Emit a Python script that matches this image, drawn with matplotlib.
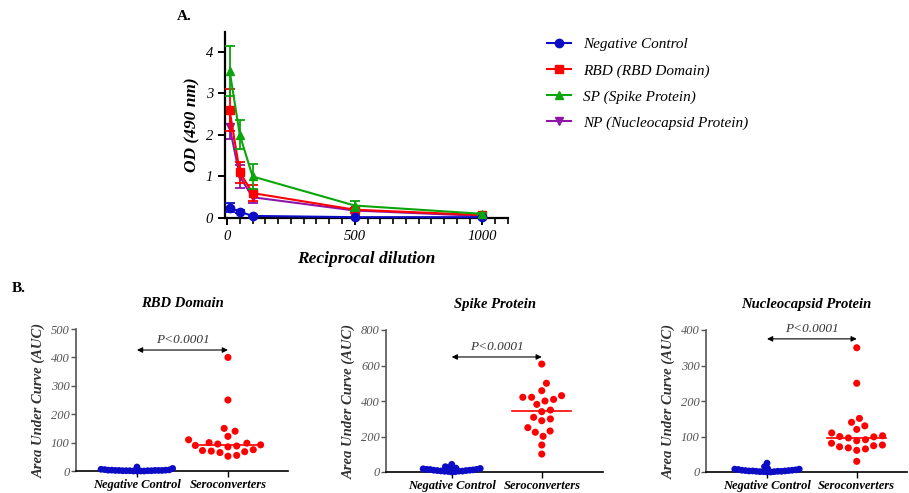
import numpy as np
import matplotlib
matplotlib.use("Agg")
import matplotlib.pyplot as plt
from matplotlib.lines import Line2D

plt.rcParams['font.family'] = ['Liberation Serif', 'DejaVu Serif']

# ---------------- Panel A data ----------------
dilution = [10, 50, 100, 500, 1000]
neg_od = [0.25, 0.15, 0.05, 0.02, 0.02]
neg_err = [0.10, 0.04, 0.02, 0.01, 0.01]
rbd_od = [2.60, 1.10, 0.60, 0.20, 0.07]
rbd_err = [0.50, 0.25, 0.20, 0.05, 0.02]
sp_od = [3.55, 2.00, 1.00, 0.30, 0.10]
sp_err = [0.60, 0.35, 0.30, 0.12, 0.03]
np_od = [2.20, 1.00, 0.50, 0.18, 0.05]
np_err = [0.30, 0.28, 0.15, 0.05, 0.02]
series_labels = ['Negative Control', 'RBD (RBD Domain)', 'SP (Spike Protein)', 'NP (Nucleocapsid Protein)']

# ---------------- Panel B data ----------------
groups = ['Negative Control', 'Seroconverters']
titles = ['RBD Domain', 'Spike Protein', 'Nucleocapsid Protein']
rbd_neg = [0, 1, 2, 1, 0, 3, 2, 1, 2, 0, 1, 3, 2, 1, 0, 2, 4, 3, 6, 9, 14, 5]
rbd_sero = [400, 250, 150, 140, 122, 110, 100, 98, 95, 92, 90, 88, 85, 75, 72, 70, 68, 65, 55, 52]
sp_neg = [5, 10, 15, 20, 8, 3, 0, 12, 18, 6, 2, 25, 10, 4, 14, 22, 43, 8, 30, 15, 5, 20]
sp_sero = [608, 500, 458, 421, 421, 430, 409, 400, 381, 349, 340, 308, 289, 299, 250, 224, 231, 201, 152, 101]
np_neg = [0, 2, 5, 8, 3, 1, 10, 6, 4, 2, 0, 3, 1, 5, 7, 2, 25, 8, 15, 4, 3, 1]
np_sero = [350, 250, 151, 140, 130, 120, 110, 102, 100, 99, 96, 91, 88, 81, 76, 74, 71, 68, 65, 61, 30]
y_max = [500, 800, 400]
y_step = [100, 200, 100]
arrow_y = [426, 648, 375]
p_text = 'P<0.0001'

BLUE = '#0c0cc4'
RED = '#ff0000'
GREEN = '#0aa50a'
PURPLE = '#8e15a8'

W, H = 909, 493
fig = plt.figure(figsize=(W / 100, H / 100), dpi=100)

# ---------------- Panel A ----------------
axA = fig.add_axes([225 / W, 1 - 218 / H, 283 / W, 186 / H])
styles = [
    (neg_od, neg_err, BLUE, 'o', 4),
    (rbd_od, rbd_err, RED, 's', 3),
    (sp_od, sp_err, GREEN, '^', 4),
    (np_od, np_err, PURPLE, 'v', 2),
]
legend_handles = []
for (vals, errs, col, mk, z), lab in zip(styles, series_labels):
    axA.errorbar(dilution, vals, yerr=errs, color=col, marker=mk, ms=6,
                 lw=1.5, elinewidth=1.3, capsize=3.5, capthick=1.3, zorder=z,
                 clip_on=False)
    legend_handles.append(Line2D([], [], color=col, marker=mk, ms=6, lw=1.5))
axA.set_xlim(-8, 1100)
axA.set_ylim(0, 4.48)
axA.set_xticks([0, 500, 1000])
axA.set_xticks(np.arange(50, 1101, 50), minor=True)
axA.set_yticks([0, 1, 2, 3, 4])
for s in ['top', 'right']:
    axA.spines[s].set_visible(False)
for s in ['left', 'bottom']:
    axA.spines[s].set_linewidth(1.6)
axA.tick_params(which='major', length=5, width=1.4, labelsize=10.5)
axA.tick_params(which='minor', length=4, width=1.2)
for t in axA.get_xticklabels() + axA.get_yticklabels():
    t.set_fontstyle('italic')
axA.set_xlabel('Reciprocal dilution', fontsize=12.5, fontweight='bold', fontstyle='italic', labelpad=6)
axA.set_ylabel('OD (490 nm)', fontsize=12.5, fontweight='bold', fontstyle='italic', labelpad=4)
fig.text(177 / W, 1 - 17 / H, 'A.', fontsize=11, fontweight='bold', va='center', ha='left')

fig.legend(legend_handles, series_labels,
           loc='upper left', bbox_to_anchor=(533 / W, 1 - 24 / H), frameon=False,
           prop={'style': 'italic', 'size': 11}, handlelength=1.6,
           labelspacing=0.8, handletextpad=0.8)

fig.text(12 / W, 1 - 288 / H, 'B.', fontsize=11, fontweight='bold', va='center', ha='left')


def swarm(values, sep_px, sx, sy):
    values = np.asarray(values, dtype=float)
    order = np.argsort(values, kind='stable')
    placed = []
    offs = np.zeros(len(values))
    for i in order:
        y = values[i] * sy
        cands = [0.0]
        for xp, yp in placed:
            dy = abs(y - yp)
            if dy < sep_px:
                dx = np.sqrt(sep_px ** 2 - dy ** 2)
                cands += [xp + dx, xp - dx]
        cands.sort(key=abs)
        chosen = cands[-1]
        for c in cands:
            if all((c - xp) ** 2 + (y - yp) ** 2 >= sep_px ** 2 - 1e-6 for xp, yp in placed):
                chosen = c
                break
        placed.append((chosen, y))
        offs[i] = chosen / sx
    return offs


boxes = [
    (76, 288, 471, -0.67, 1.66),
    (386, 603, 472, -0.73, 1.68),
    (706, 907, 472, -0.68, 1.56),
]
data_sets = [(rbd_neg, rbd_sero), (sp_neg, sp_sero), (np_neg, np_sero)]
for k, ((l, r, b, x0, x1), (neg, sero)) in enumerate(zip(boxes, data_sets)):
    hpx = 142
    ax = fig.add_axes([l / W, 1 - b / H, (r - l) / W, hpx / H])
    ax.set_xlim(x0, x1)
    ax.set_ylim(0, y_max[k])
    sx = (r - l) / (x1 - x0)
    sy = hpx / y_max[k]
    off_n = swarm(neg, 3.6, sx, sy)
    off_s = swarm(sero, 8.8, sx, sy)
    ax.scatter(0 + off_n, neg, s=24, color=BLUE, edgecolors='none', zorder=3, clip_on=False)
    ax.scatter(1 + off_s, sero, s=26, color=RED, edgecolors='none', zorder=3, clip_on=False)
    med = float(np.median(sero))
    ax.plot([1 - 0.33, 1 + 0.33], [med, med], color=RED, lw=1.2, zorder=2)
    ax.annotate('', xy=(1, arrow_y[k]), xytext=(0, arrow_y[k]),
                arrowprops=dict(arrowstyle='<|-|>', color='black', lw=0.8,
                                mutation_scale=8, shrinkA=0, shrinkB=0))
    ax.text(0.5, arrow_y[k] + y_max[k] * 0.025, p_text, ha='center', va='bottom',
            fontsize=9.5, fontstyle='italic', color='#333333')
    ax.set_xticks([0, 1])
    ax.set_xticklabels(groups, fontsize=9, fontweight='bold', fontstyle='italic')
    ax.set_yticks(np.arange(0, y_max[k] + 1, y_step[k]))
    ax.tick_params(axis='y', length=3.5, width=1.0, labelsize=9, colors='#555555', pad=1)
    ax.tick_params(axis='x', length=4, width=1.0, pad=2)
    for t in ax.get_yticklabels():
        t.set_fontstyle('italic')
        t.set_color('#555555')
    for s in ['top', 'right']:
        ax.spines[s].set_visible(False)
    ax.spines['left'].set_linewidth(1.2)
    ax.spines['bottom'].set_linewidth(1.2)
    ax.spines['left'].set_color('#555555')
    ax.set_ylabel('Area Under Curve (AUC)', fontsize=10.5, fontweight='bold',
                  fontstyle='italic', color='#333333', labelpad=4)
    ax.set_title(titles[k], fontsize=10.5, fontweight='bold', fontstyle='italic', pad=16)

fig.savefig('out.png', dpi=100)
